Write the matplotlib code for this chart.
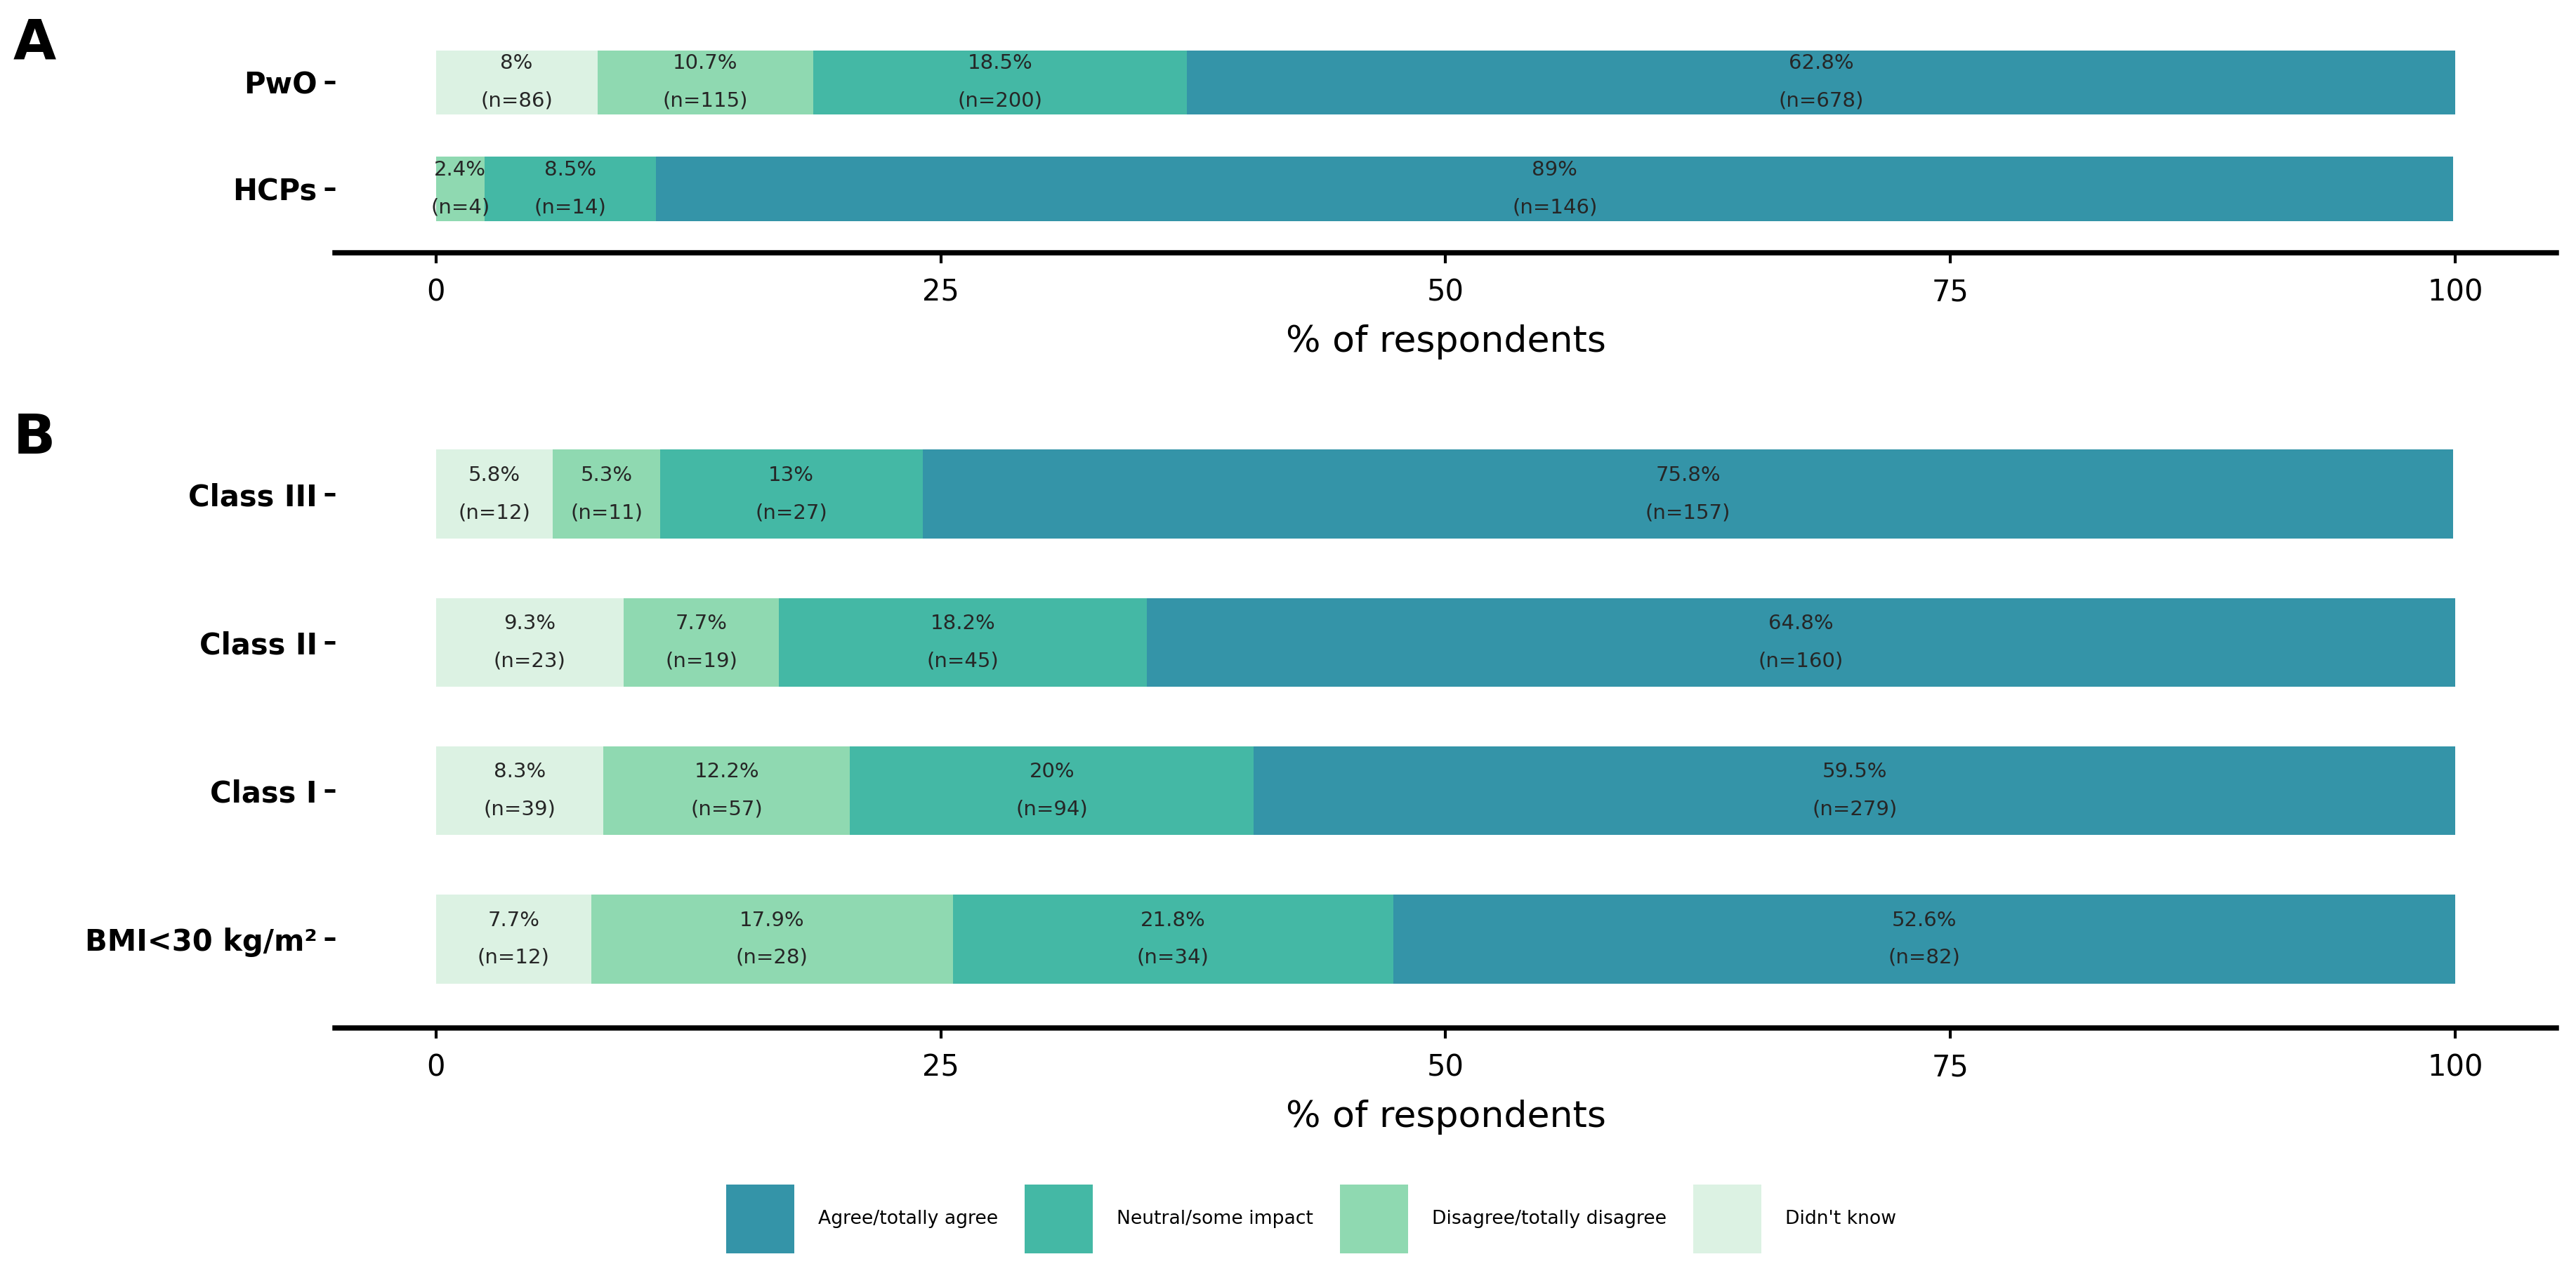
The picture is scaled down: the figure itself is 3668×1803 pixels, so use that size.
import matplotlib
matplotlib.use('Agg')
import matplotlib.pyplot as plt
from matplotlib.patches import Patch
import numpy as np

plt.rcParams['font.family'] = 'DejaVu Sans'

# response categories, left to right in each bar
responses = ["Didn't know", 'Disagree/totally disagree', 'Neutral/some impact', 'Agree/totally agree']
colors = ['#dcf2e3', '#8fd9b1', '#44b8a5', '#3494a8']

# Panel A (bottom to top)
groups_a = ['HCPs', 'PwO']
pct_hcps = [0, 2.4, 8.5, 89]
n_hcps = [0, 4, 14, 146]
pct_pwo = [8, 10.7, 18.5, 62.8]
n_pwo = [86, 115, 200, 678]

# Panel B (bottom to top)
groups_b = ['BMI<30 kg/m²', 'Class I', 'Class II', 'Class III']
pct_bmi = [7.7, 17.9, 21.8, 52.6]
n_bmi = [12, 28, 34, 82]
pct_c1 = [8.3, 12.2, 20, 59.5]
n_c1 = [39, 57, 94, 279]
pct_c2 = [9.3, 7.7, 18.2, 64.8]
n_c2 = [23, 19, 45, 160]
pct_c3 = [5.8, 5.3, 13, 75.8]
n_c3 = [12, 11, 27, 157]

xticks = [0, 25, 50, 75, 100]


def draw_panel(ax, labels, pcts, ns):
    for i, (p_row, n_row) in enumerate(zip(pcts, ns)):
        left = 0
        for j in range(len(responses)):
            p = p_row[j]
            if p > 0:
                ax.barh(i + 1, p, left=left, height=0.6, color=colors[j], linewidth=0)
                ax.text(left + p / 2, i + 1, f'{p:g}%\n(n={n_row[j]})', ha='center', va='center',
                        fontsize=7, linespacing=2.15, color='#262626')
            left += p
    ax.set_xlim(-5, 105)
    ax.set_ylim(0.4, len(labels) + 0.6)
    for s in ['top', 'right', 'left']:
        ax.spines[s].set_visible(False)
    ax.spines['bottom'].set_linewidth(1.8)
    ax.set_xticks(xticks)
    ax.set_xticklabels([str(t) for t in xticks])
    ax.set_yticks(range(1, len(labels) + 1))
    ax.set_yticklabels(labels, fontweight='bold')
    ax.tick_params(axis='x', length=3.5, width=1.0, pad=5, labelsize=10)
    ax.tick_params(axis='y', length=3.5, width=1.2, pad=2.5, labelsize=10)
    ax.set_xlabel('% of respondents', fontsize=12.5, labelpad=6)


fig = plt.figure(figsize=(3668 / 300, 1803 / 300), dpi=300)
fig.patch.set_facecolor('white')

ax_a = fig.add_axes([0.1300, 0.8003, 0.8624, 0.1853])
draw_panel(ax_a, groups_a, [pct_hcps, pct_pwo], [n_hcps, n_pwo])

ax_b = fig.add_axes([0.1300, 0.1880, 0.8624, 0.4920])
draw_panel(ax_b, groups_b, [pct_bmi, pct_c1, pct_c2, pct_c3], [n_bmi, n_c1, n_c2, n_c3])

fig.text(0.005, 0.987, 'A', fontsize=19, fontweight='bold', ha='left', va='top')
fig.text(0.005, 0.675, 'B', fontsize=19, fontweight='bold', ha='left', va='top')

handles = [Patch(facecolor=colors[j], edgecolor='none') for j in range(3, -1, -1)]
fig.legend(handles, responses[::-1], loc='center', bbox_to_anchor=(0.509, 0.037), ncol=4,
           frameon=False, fontsize=6.4, handlelength=3.64, handleheight=5.27,
           handletextpad=1.3, columnspacing=1.4, borderpad=0)

plt.savefig('out.png', dpi=300, facecolor='white')
plt.close()
